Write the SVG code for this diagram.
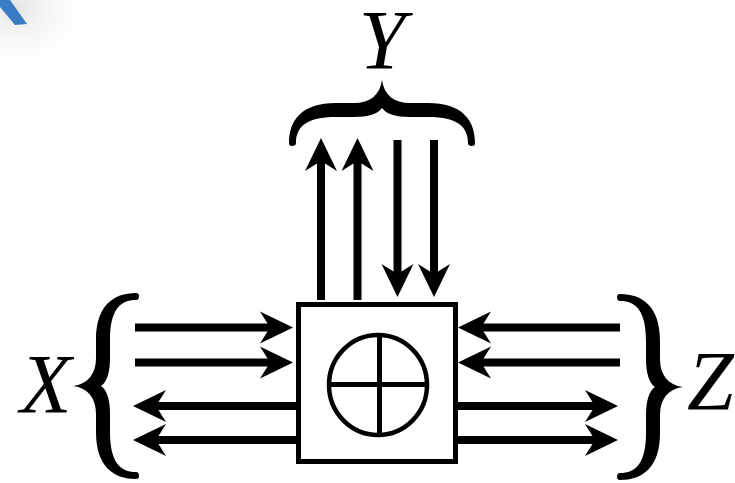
<svg xmlns="http://www.w3.org/2000/svg" xmlns:xlink="http://www.w3.org/1999/xlink" width="735" height="483" viewBox="0 0 735 483">
  <style>
    .conn { stroke: #000; stroke-width: 8; fill: none; marker-end: url(#ah); }
    .lbl { font-family: "Liberation Serif", "Times New Roman", serif; font-style: italic; font-size: 84px; fill: #000; }
    .brace { fill: #000; }
  </style>
  <defs>
    <marker id="ah" markerUnits="userSpaceOnUse" viewBox="-5 -20 45 40" markerWidth="45" markerHeight="40" refX="10" refY="0" orient="auto">
      <path d="M0,-16 L33,0 L0,16 L10,0 Z" fill="#000"/>
    </marker>
    <path id="bracePath" d="M0,0 C2,15 12,23 28,23 L46,23 C80,23 93,40 93,63 Q93,66 90,66 Q86,66 86,63 C86,47 76,37 46,37 L28,37 C14,37 4,34 0,28 C-4,34 -14,37 -28,37 L-46,37 C-76,37 -86,47 -86,63 Q-86,66 -90,66 Q-93,66 -93,63 C-93,40 -80,23 -46,23 L-28,23 C-12,23 -2,15 0,0 Z"/>
    <radialGradient id="shade" cx="0.4" cy="0.35" r="0.6">
      <stop offset="0" stop-color="#e4e4e4"/>
      <stop offset="1" stop-color="#ffffff" stop-opacity="0"/>
    </radialGradient>
  </defs>
  <rect width="735" height="483" fill="#fff"/>
  <g id="corner-artifact">
    <ellipse cx="30" cy="25" rx="70" ry="60" fill="url(#shade)"/>
    <polygon points="0,0 10,0 27,24 15,25 0,7" fill="#3a7cc4"/>
  </g>
  <g id="mixer">
    <rect x="298.5" y="304.5" width="157" height="157" fill="#fff" stroke="#000" stroke-width="5"/>
    <ellipse cx="378" cy="385" rx="49" ry="50" fill="none" stroke="#000" stroke-width="4.5"/>
    <line x1="379.5" y1="334" x2="379.5" y2="436" stroke="#000" stroke-width="5"/>
    <line x1="328" y1="384.5" x2="428" y2="384.5" stroke="#000" stroke-width="5"/>
  </g>
  <g id="connectors">
    <line class="conn" x1="135" y1="327.5" x2="270" y2="327.5"/>
    <line class="conn" x1="135" y1="362.5" x2="270" y2="362.5"/>
    <line class="conn" x1="296" y1="406" x2="156" y2="406"/>
    <line class="conn" x1="296" y1="440" x2="156" y2="440"/>
    <line class="conn" x1="620" y1="327.5" x2="481" y2="327.5"/>
    <line class="conn" x1="620" y1="362.5" x2="481" y2="362.5"/>
    <line class="conn" x1="458" y1="406" x2="595" y2="406"/>
    <line class="conn" x1="458" y1="440" x2="595" y2="440"/>
    <line class="conn" x1="321" y1="300" x2="321" y2="161"/>
    <line class="conn" x1="357.5" y1="300" x2="357.5" y2="161"/>
    <line class="conn" x1="397.5" y1="140" x2="397.5" y2="274"/>
    <line class="conn" x1="434" y1="140" x2="434" y2="274"/>
  </g>
  <g id="brace-Y">
    <use xlink:href="#bracePath" href="#bracePath" class="brace" transform="translate(382,80)"/>
    <text class="lbl" x="382" y="69" text-anchor="middle">Y</text>
  </g>
  <g id="brace-X">
    <use xlink:href="#bracePath" href="#bracePath" class="brace" transform="translate(73,386) rotate(-90)"/>
    <text class="lbl" x="46" y="413" text-anchor="middle">X</text>
  </g>
  <g id="brace-Z">
    <use xlink:href="#bracePath" href="#bracePath" class="brace" transform="translate(683,387) rotate(90)"/>
    <text class="lbl" x="687" y="410">Z</text>
  </g>
</svg>
